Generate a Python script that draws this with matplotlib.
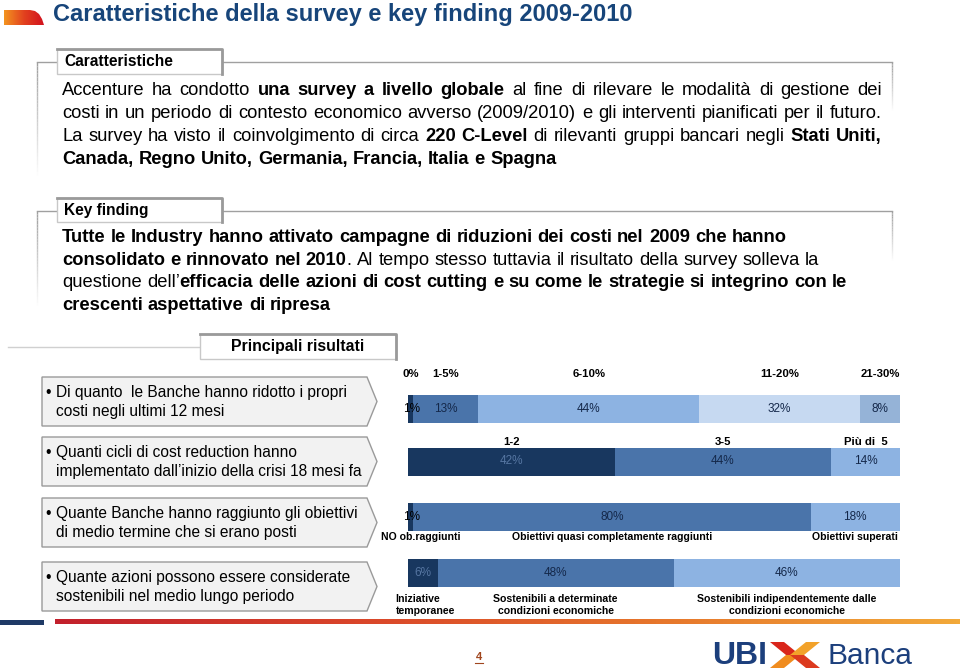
import matplotlib
matplotlib.use('Agg')
import matplotlib.pyplot as plt
import numpy as np
from matplotlib.patches import Polygon, Rectangle
from matplotlib.colors import LinearSegmentedColormap

plt.rcParams['font.family'] = ['Liberation Sans', 'DejaVu Sans']

W, H = 960, 671

# ---- texts ----
title = 'Caratteristiche della survey e key finding 2009-2010'
box1_title = 'Caratteristiche'
box1_lines = [
    'Accenture ha condotto *una survey a livello globale* al fine di rilevare le modalità di gestione dei',
    'costi in un periodo di contesto economico avverso (2009/2010) e gli interventi pianificati per il futuro.',
    'La survey ha visto il coinvolgimento di circa *220 C-Level* di rilevanti gruppi bancari negli *Stati Uniti,*',
    '*Canada, Regno Unito, Germania, Francia, Italia e Spagna*',
]
box2_title = 'Key finding'
box2_lines = [
    '*Tutte le Industry hanno attivato campagne di riduzioni dei costi nel 2009 che hanno*',
    '*consolidato e rinnovato nel 2010*. Al tempo stesso tuttavia il risultato della survey solleva la',
    'questione dell’*efficacia delle azioni di cost cutting e su come le strategie si integrino con le*',
    '*crescenti aspettative di ripresa*',
]
results_title = 'Principali risultati'
questions = [
    ['Di quanto  le Banche hanno ridotto i propri', 'costi negli ultimi 12 mesi'],
    ['Quanti cicli di cost reduction hanno', 'implementato dall’inizio della crisi 18 mesi fa'],
    ['Quante Banche hanno raggiunto gli obiettivi', 'di medio termine che si erano posti'],
    ['Quante azioni possono essere considerate', 'sostenibili nel medio lungo periodo'],
]

# ---- survey data ----
cut_labels = ['0%', '1-5%', '6-10%', '11-20%', '21-30%']
cut_values = [1, 13, 44, 32, 8]
cycle_labels = ['1-2', '3-5', 'Più di  5']
cycle_values = [42, 44, 14]
goal_labels = ['NO ob.raggiunti', 'Obiettivi quasi completamente raggiunti', 'Obiettivi superati']
goal_values = [1, 80, 18]
sust_labels = ['Iniziative\ntemporanee', 'Sostenibili a determinate\ncondizioni economiche',
               'Sostenibili indipendentemente dalle\ncondizioni economiche']
sust_values = [6, 48, 46]

NAVY = '#18375F'
MID = '#4A74AA'
LIGHT = '#8DB3E2'
PALE = '#C6D9F1'
GREYBLUE = '#95B3D7'
TITLE_BLUE = '#17457A'

fig = plt.figure(figsize=(9.6, 6.71), dpi=100)
bg = fig.add_axes([0, 0, 1, 1])
bg.set_xlim(0, W)
bg.set_ylim(H, 0)
bg.axis('off')
renderer = fig.canvas.get_renderer()


def text_width(s, size, bold):
    t = bg.text(0, 0, s, fontsize=size, fontweight='bold' if bold else 'normal')
    w = t.get_window_extent(renderer).width
    t.remove()
    return w


def rich_line(x, y, line, size, width=None):
    # '*' toggles bold; if width is given the line is justified
    bold = False
    words = []
    for w in line.split(' '):
        parts = w.split('*')
        pieces = []
        for i, p in enumerate(parts):
            if i > 0:
                bold = not bold
            pieces.append((p, bold))
        words.append([(p, b) for p, b in pieces if p != ''])
    widths = [[text_width(p, size, b) for p, b in wd] for wd in words]
    total = sum(sum(ws) for ws in widths)
    space = text_width('a a', size, False) - text_width('aa', size, False)
    if width is not None and len(words) > 1:
        space = (width - total) / (len(words) - 1)
    cx = x
    for wd, ws in zip(words, widths):
        for (p, b), pw in zip(wd, ws):
            bg.text(cx, y, p, fontsize=size, fontweight='bold' if b else 'normal',
                    va='baseline', ha='left', color='black')
            cx += pw
        cx += space


def fade_vline(x, y0, y1, color='#A0A0A0', n=30):
    ys = np.linspace(y0, y1, n + 1)
    for i in range(n):
        bg.plot([x, x], [ys[i], ys[i + 1]], color=color, lw=1, alpha=1 - i / n,
                solid_capstyle='butt')


def tab(x0, y0, x1, y1):
    bg.add_patch(Rectangle((x0, y0), x1 - x0, y1 - y0, fc='white', ec='#C8C8C8', lw=1, zorder=3))
    bg.plot([x0, x1, x1], [y0, y0, y1], color='#9A9A9A', lw=2, zorder=4)


# ---- title ----
grad = LinearSegmentedColormap.from_list('ic', ['#F39320', '#E2421F', '#D2121E'])
im = bg.imshow(np.linspace(0, 1, 64)[None, :], cmap=grad, extent=[4, 44, 25, 10], aspect='auto')
icon = Polygon([(4, 25), (4, 10), (30, 10), (35, 11), (39, 14), (42, 19), (44, 25)],
               closed=True, transform=bg.transData, fc='none', ec='none')
bg.add_patch(icon)
im.set_clip_path(icon)
bg.text(53, 14, title, fontsize=17, fontweight='bold', color=TITLE_BLUE, va='center', ha='left')

# ---- box 1 ----
bg.plot([37, 892], [62, 62], color='#A0A0A0', lw=1)
fade_vline(37, 62, 175)
fade_vline(892, 62, 110)
tab(57, 49, 222, 74)
bg.text(64, 62, box1_title, fontsize=11.2, fontweight='bold', va='center', zorder=5)
for i, ln in enumerate(box1_lines):
    rich_line(62, 95 + 23 * i, ln, 13.2, width=820 if i < 3 else None)

# ---- box 2 ----
bg.plot([37, 892], [211, 211], color='#A0A0A0', lw=1)
fade_vline(37, 211, 305)
fade_vline(892, 211, 260)
tab(57, 198, 222, 222)
bg.text(64, 210, box2_title, fontsize=11.2, fontweight='bold', va='center', zorder=5)
for i, ln in enumerate(box2_lines):
    rich_line(62, 242 + 22.7 * i, ln, 13.2)

# ---- results header ----
bg.plot([8, 200], [347, 347], color='#D0D0D0', lw=1)
tab(200, 334, 396, 359)
bg.text(298, 347, results_title, fontsize=11.4, fontweight='bold', va='center', ha='center', zorder=5)

# ---- question chevrons ----
q_tops = [377, 437, 498, 562]
q_h = 49
for top, q in zip(q_tops, questions):
    bg.add_patch(Polygon([(42, top), (367, top), (377, top + q_h / 2), (367, top + q_h), (42, top + q_h)],
                         closed=True, fc='#F2F2F2', ec='#9A9A9A', lw=1))
    bg.text(45, top + 20, '•', fontsize=11.2, va='baseline')
    bg.text(56, top + 20, q[0], fontsize=11.2, va='baseline')
    bg.text(56, top + 39, q[1], fontsize=11.2, va='baseline')

# ---- stacked bars ----
BX0, BX1, BY0, BY1 = 408, 900, 350, 620
bx = fig.add_axes([BX0 / W, 1 - BY1 / H, (BX1 - BX0) / W, (BY1 - BY0) / H])
bx.set_xlim(0, 100)
bx.set_ylim(BY1, BY0)
bx.axis('off')
BAR_H = 28
LAB_TOP = 8.2
LAB_BOT = 7.6

rows = [
    (cut_values, cut_labels, [NAVY, MID, LIGHT, PALE, GREYBLUE], 408.5, 'above', 374),
    (cycle_values, cycle_labels, [NAVY, MID, LIGHT], 461.5, 'above', 442),
    (goal_values, goal_labels, [NAVY, MID, LIGHT], 516.5, 'below', 537),
    (sust_values, sust_labels, [NAVY, MID, LIGHT], 573, 'below', 594),
]
for values, labels, colors, yc, where, ly in rows:
    total = sum(values)
    shares = np.array(values) / total * 100
    lefts = np.concatenate([[0], np.cumsum(shares)[:-1]])
    bx.barh(yc, shares, left=lefts, height=BAR_H, color=colors, edgecolor='none')
    for k, (l, s, v, c, lab) in enumerate(zip(lefts, shares, values, colors, labels)):
        mid = l + s / 2
        if s < 3:
            vc = 'black'
        elif c == NAVY:
            vc = '#5676A2'
        else:
            vc = '#14284A'
        bx.text(mid + (0.3 if s < 3 else 0), yc, f'{v}%', fontsize=8.5, ha='center', va='center', color=vc)
        if where == 'above':
            bx.text(mid, ly, lab, fontsize=LAB_TOP, fontweight='bold', ha='center', va='center')
        else:
            if k == 0 and '\n' in lab:
                bx.text(mid - 5.5, ly, lab, fontsize=LAB_BOT, fontweight='bold', ha='left', va='top',
                        linespacing=1.3)
            elif k == 0:
                bx.text(mid + 2, ly, lab, fontsize=LAB_BOT, fontweight='bold', ha='center', va='center')
            else:
                bx.text(mid, ly, lab, fontsize=LAB_BOT, fontweight='bold', ha='center',
                        va='top' if '\n' in lab else 'center', linespacing=1.3)

# ---- footer ----
bg.add_patch(Rectangle((0, 620), 44, 4.5, fc='#1F3A66', ec='none'))
fgrad = LinearSegmentedColormap.from_list('fl', ['#C2202C', '#D9452A', '#E6762C', '#F2A93A'])
bg.imshow(np.linspace(0, 1, 256)[None, :], cmap=fgrad, extent=[55, 960, 624.5, 620], aspect='auto')
bg.set_xlim(0, W)
bg.set_ylim(H, 0)

bg.text(479, 657, '4', fontsize=8, fontweight='bold', color='#A0461E', ha='center', va='center')
bg.plot([475, 483], [663, 663], color='#A0461E', lw=0.8)

# logo
LOGO = '#1C3F7C'
bg.text(712, 664, 'UBI', fontsize=23, fontweight='bold', color=LOGO, va='baseline')
arms = [
    ([(770, 642), (784, 642), (800, 655), (786, 655)], '#D9261C'),
    ([(770, 668), (784, 668), (800, 655), (786, 655)], '#F08C1E'),
    ([(820, 642), (806, 642), (790, 655), (804, 655)], '#F2A22A'),
    ([(820, 668), (806, 668), (790, 655), (804, 655)], '#DC3A1E'),
]
for pts, col in arms:
    bg.add_patch(Polygon(pts, closed=True, fc=col, ec='none'))
bg.text(828, 664, 'Banca', fontsize=21.5, color=LOGO, va='baseline')

fig.savefig('out.png', dpi=100)
